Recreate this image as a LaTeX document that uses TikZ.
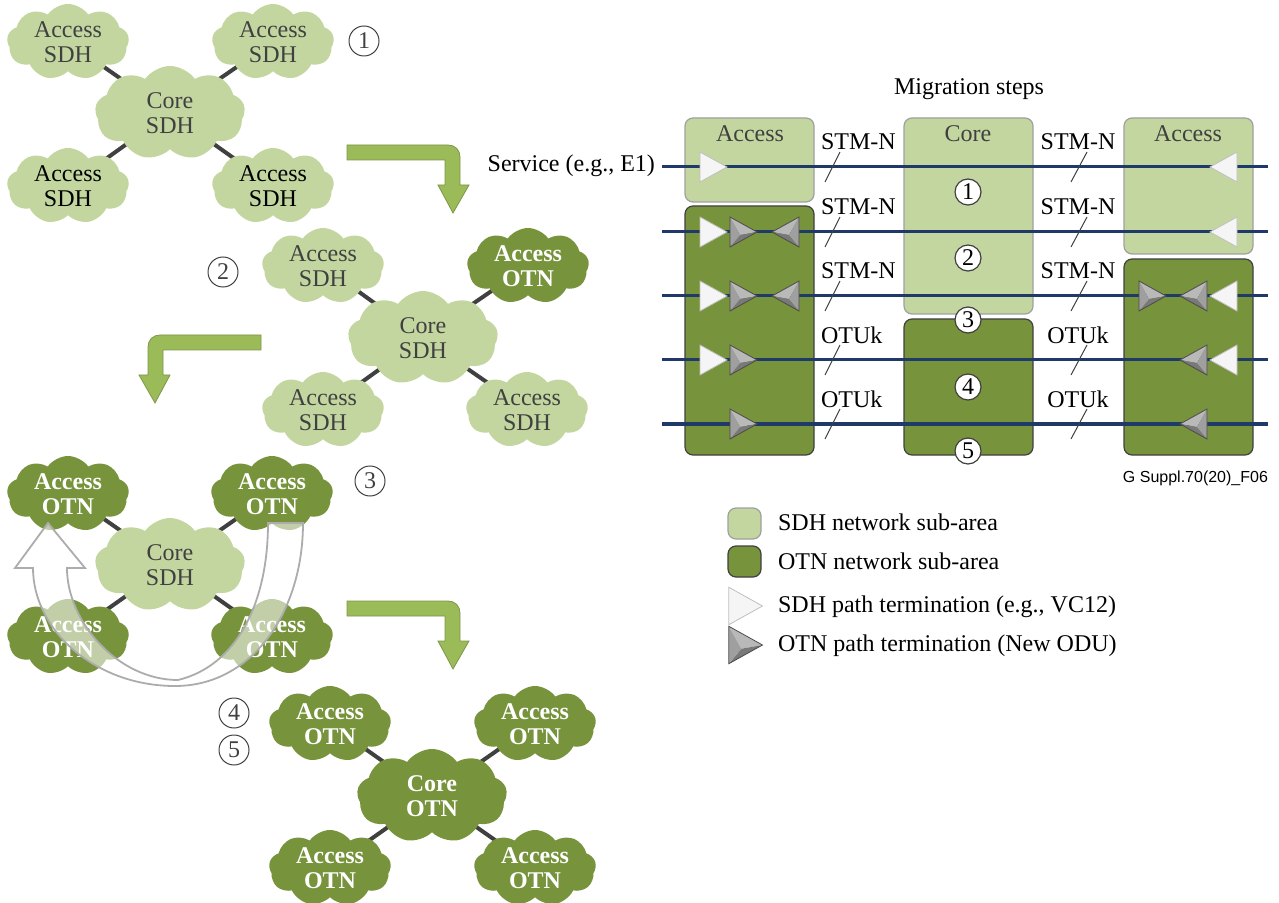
\documentclass[tikz,border=0pt]{standalone}
\usepackage{fontspec}
\setmainfont{Liberation Serif}
\newfontfamily\figfont{Liberation Sans}
\usetikzlibrary{shapes.symbols,backgrounds}
\definecolor{sdhgreen}{HTML}{C4D6A0}
\definecolor{otngreen}{HTML}{77933C}
\definecolor{arrowgreen}{HTML}{9BBB59}
\definecolor{navy}{HTML}{1F3A68}
\definecolor{txtgray}{HTML}{404040}
\tikzset{
	cloudbase/.style={cloud, cloud puffs=9, cloud puff arc=110, aspect=1.6,
		inner sep=0pt, minimum width=61pt, minimum height=38pt, align=center},
	sdhcloud/.style={cloudbase, fill=sdhgreen, text=txtgray,
		font=\fontsize{12}{12.5}\selectfont},
	otncloud/.style={cloudbase, fill=otngreen, text=white,
		font=\fontsize{12}{12.5}\selectfont\bfseries},
	corecloud/.style={minimum width=75pt, minimum height=47pt},
	link/.style={line width=2pt, draw=txtgray},
	stepmark/.style={circle, draw=txtgray, line width=0.5pt, inner sep=0pt,
		minimum size=15pt, font=\fontsize{12}{12}\selectfont, text=txtgray},
	stepnum/.style={circle, draw=txtgray, fill=white, line width=0.6pt,
		inner sep=0pt, minimum size=13pt, font=\fontsize{12}{12}\selectfont},
	sdhbox/.style={fill=sdhgreen, draw=gray!75, line width=0.6pt, rounded corners=4pt},
	otnbox/.style={fill=otngreen, draw=black!75, line width=0.6pt, rounded corners=4pt},
	trail/.style={line width=1.5pt, draw=navy},
	slash/.style={line width=0.5pt, draw=txtgray},
	txt/.style={font=\fontsize{12}{12}\selectfont},
	bentarrow/.pic={
		\filldraw[fill=arrowgreen, draw=arrowgreen!80!black, line width=0.4pt]
			(0,0) -- (101,0) .. controls (108,0) and (113,5) .. (113,12)
			-- (113,40) -- (122,40) -- (106,68) -- (91,40) -- (98,40)
			-- (98,15) -- (0,15) -- cycle;
	},
	sdhterm/.pic={
		\filldraw[fill=gray!8, draw=gray!50, line width=0.4pt]
			(-13,-15) -- (14,0) -- (-13,15) -- cycle;
	},
	otnterm/.pic={
		\fill[gray!55] (-13,-15) -- (14,0) -- (-3,3) -- cycle;
		\fill[gray!95!black] (-13,15) -- (14,0) -- (-3,3) -- cycle;
		\fill[gray!75] (-13,-15) -- (-13,15) -- (-3,3) -- cycle;
		\draw[gray!60!black, line width=0.4pt] (-13,-15) -- (14,0) -- (-13,15) -- cycle;
	}
}

\begin{document}
\begin{tikzpicture}[x=0.5pt, y=-0.5pt]
	\useasboundingbox (0,0) rectangle (1279,903);

	% step 1
	\node[sdhcloud, corecloud] (n1c) at (170,113) {Core\\SDH};
	\node[sdhcloud] (n1a) at (68,42) {Access\\SDH};
	\node[sdhcloud] (n1b) at (273,42) {Access\\SDH};
	\node[sdhcloud, text=black] (n1d) at (68,186) {Access\\SDH};
	\node[sdhcloud, text=black] (n1e) at (273,186) {Access\\SDH};
	\node[stepmark] (m1) at (364,41) {1};

	% step 2
	\node[sdhcloud, corecloud] (n2c) at (423,338) {Core\\SDH};
	\node[sdhcloud] (n2a) at (323,266) {Access\\SDH};
	\node[otncloud] (n2b) at (528,266) {Access\\OTN};
	\node[sdhcloud] (n2d) at (323,410) {Access\\SDH};
	\node[sdhcloud] (n2e) at (527,410) {Access\\SDH};
	\node[stepmark] (m2) at (223,272) {2};

	% step 3
	\node[sdhcloud, corecloud] (n3c) at (170,565) {Core\\SDH};
	\node[otncloud] (n3a) at (68,494) {Access\\OTN};
	\node[otncloud] (n3b) at (272,494) {Access\\OTN};
	\node[otncloud] (n3d) at (68,637) {Access\\OTN};
	\node[otncloud] (n3e) at (272,637) {Access\\OTN};
	\node[stepmark] (m3) at (370,481) {3};

	% steps 4 and 5
	\node[otncloud, corecloud] (n4c) at (432,796) {Core\\OTN};
	\node[otncloud] (n4a) at (330,724) {Access\\OTN};
	\node[otncloud] (n4b) at (535,724) {Access\\OTN};
	\node[otncloud] (n4d) at (330,868) {Access\\OTN};
	\node[otncloud] (n4e) at (535,868) {Access\\OTN};
	\node[stepmark] (m4) at (234,713) {4};
	\node[stepmark] (m5) at (234,750) {5};

	\begin{scope}[on background layer]
		\foreach \k in {1,...,4}
		{
			\foreach \a in {a,b,d,e}
			{
				\draw[link] (n\k c.center) -- (n\k\a.center);
			};
		};
	\end{scope}

	\pic at (347,145) {bentarrow};
	\pic[xscale=-1] at (261,335) {bentarrow};
	\pic at (347,601) {bentarrow};

	% swap of the access areas
	\filldraw[fill=white, fill opacity=0.55, draw=gray!65, line width=0.9pt]
		(268,523) -- (303,523) .. controls (303,612) and (252,686) .. (175,686)
		.. controls (95,686) and (33,630) .. (33,568) -- (15,568) -- (48,523)
		-- (85,568) -- (67,568) .. controls (67,622) and (118,680) .. (178,680)
		.. controls (236,666) and (268,604) .. (268,523) -- cycle;

	% migration steps
	\node[txt] (title) at (969,89) {Migration steps};

	\draw[sdhbox] (685,118) rectangle (814,202);
	\draw[otnbox] (685,206) rectangle (814,455);
	\draw[sdhbox] (904,118) rectangle (1033,314);
	\draw[otnbox] (904,319) rectangle (1033,455);
	\draw[sdhbox] (1124,118) rectangle (1253,254);
	\draw[otnbox] (1124,259) rectangle (1253,455);

	\node[txt, text=txtgray] (accl) at (750,134) {Access};
	\node[txt, text=txtgray] (core) at (968,134) {Core};
	\node[txt, text=txtgray] (accr) at (1188,134) {Access};

	\node[txt, anchor=east] (svc) at (662,166) {Service (e.g., E1)};

	\foreach \r / \y in {1/167, 2/232, 3/296, 4/360, 5/424}
	{
		\coordinate (w\r) at (662,\y);
		\coordinate (e\r) at (1268,\y);
		\draw[trail] (w\r) -- (e\r);
		\draw[slash] (825,\y+15) -- (840,\y-15);
		\draw[slash] (1071,\y+15) -- (1087,\y-15);
	};

	\foreach \y / \t in {142/STM-N, 207/STM-N, 271/STM-N, 335/OTUk, 399/OTUk}
	{
		\node[txt, anchor=west] at (814,\y) {\t};
		\node[txt] at (1078,\y) {\t};
	};

	% path terminations
	\foreach \y in {167, 232, 296, 360}
	{
		\pic at (713,\y) {sdhterm};
	};
	\foreach \y in {232, 296, 360, 424}
	{
		\pic at (743,\y) {otnterm};
	};
	\foreach \y in {232, 296}
	{
		\pic[xscale=-1] at (786,\y) {otnterm};
	};
	\foreach \y in {167, 232, 296, 360}
	{
		\pic[xscale=-1] at (1224,\y) {sdhterm};
	};
	\foreach \y in {296, 360, 424}
	{
		\pic[xscale=-1] at (1194,\y) {otnterm};
	};
	\pic at (1152,296) {otnterm};

	\foreach \i / \y in {1/192, 2/258, 3/320, 4/387, 5/451}
	{
		\node[stepnum] (s\i) at (968,\y) {\i};
	};

	\node[font=\figfont\fontsize{8}{9}\selectfont, anchor=east] (fig) at (1275,478) {G Suppl.70(20)\_F06};

	% legend
	\draw[sdhbox] (728,508) rectangle (761,539);
	\draw[otnbox] (728,546) rectangle (761,577);
	\pic[scale=1.25] at (745,606) {sdhterm};
	\pic[scale=1.25] at (745,645) {otnterm};
	\node[txt, anchor=west] (l1) at (771,522) {SDH network sub-area};
	\node[txt, anchor=west] (l2) at (771,561) {OTN network sub-area};
	\node[txt, anchor=west] (l3) at (771,607) {SDH path termination (e.g., VC12)};
	\node[txt, anchor=west] (l4) at (771,646) {OTN path termination (New ODU)};
\end{tikzpicture}
\end{document}
